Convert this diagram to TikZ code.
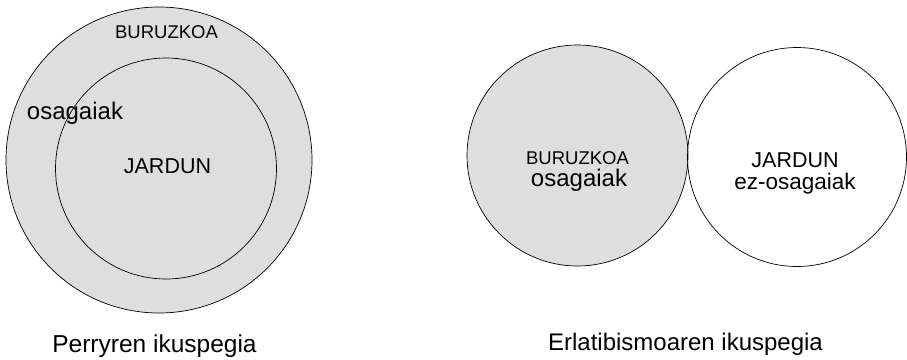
\documentclass[tikz,border=0pt]{standalone}
\usepackage{fontspec}
\setmainfont{Liberation Sans}
\begin{document}
\begin{tikzpicture}[x=1pt,y=-1pt,
		ring/.style={circle, draw, line width=0.7pt, inner sep=0pt},
		lab/.style={anchor=base, inner sep=0pt, font=\fontsize{#1}{#1}\selectfont}]
	\useasboundingbox (0,0) rectangle (907,359);
	% Perryren ikuspegia
	\node[ring, fill=black!13, minimum size=306pt] (outer) at (159,160) {};
	\node[ring, minimum size=221pt] (inner) at (166,168.5) {};
	\node[lab=18.5] (buruL) at (166.5,38) {BURUZKOA};
	\node[lab=24] (osaL) at (75,119) {osagaiak};
	\node[lab=21.5] (jarL) at (167.5,173) {JARDUN};
	\node[lab=24.5] (capL) at (154.5,352) {Perryren ikuspegia};
	% Erlatibismoaren ikuspegia
	\node[ring, fill=black!13, minimum size=221pt] (buru) at (577.5,155.5) {};
	\node[ring, minimum size=219pt] (jardun) at (797,157) {};
	\node[lab=18.5] (buruR) at (577.5,164.3) {BURUZKOA};
	\node[lab=24] (osaR) at (579,186.7) {osagaiak};
	\node[lab=21.5] (jarR) at (795,167.5) {JARDUN};
	\node[lab=22.5] (ezR) at (795,189) {ez-osagaiak};
	\node[lab=24] (capR) at (685.5,350) {Erlatibismoaren ikuspegia};
\end{tikzpicture}
\end{document}
